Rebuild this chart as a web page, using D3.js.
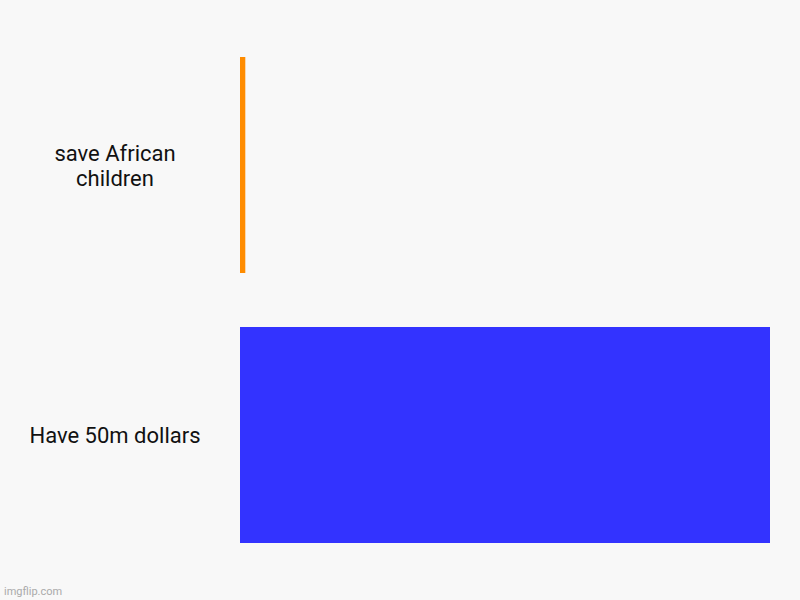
<!DOCTYPE html>
<html>
<head>
<meta charset="utf-8">
<script src="https://cdn.jsdelivr.net/npm/d3@7"></script>
<style>
  body { margin: 0; background: #f8f8f8; }
  svg { display: block; }
</style>
</head>
<body>
<div id="chart"></div>
<script>
// chart data
const categories = ["save African children", "Have 50m dollars"];
const values = [0.5, 50];
const colors = ["#ff8c00", "#3333ff"];
const labelLines = [["save African", "children"], ["Have 50m dollars"]];

const width = 800, height = 600;

const svg = d3.select("#chart").append("svg")
    .attr("width", width)
    .attr("height", height);

svg.append("rect")
    .attr("width", width)
    .attr("height", height)
    .attr("fill", "#f8f8f8");

const x = d3.scaleLinear()
    .domain([0, d3.max(values)])
    .range([240, 770]);

const y = d3.scaleBand()
    .domain(categories)
    .range([57, 543])
    .paddingInner(0.2)
    .paddingOuter(0);

svg.selectAll("rect.bar")
    .data(categories)
    .enter().append("rect")
    .attr("class", "bar")
    .attr("x", x(0))
    .attr("y", d => y(d))
    .attr("width", (d, i) => x(values[i]) - x(0))
    .attr("height", y.bandwidth())
    .attr("fill", (d, i) => colors[i]);

// category labels, wrapped like the original
const labels = svg.selectAll("text.label")
    .data(categories)
    .enter().append("text")
    .attr("class", "label")
    .attr("text-anchor", "middle")
    .attr("font-family", "Roboto, sans-serif")
    .attr("font-size", 22)
    .attr("fill", "#111");

labels.each(function(d, i) {
    const lines = labelLines[i];
    const cy = y(d) + y.bandwidth() / 2;
    const lineH = 25;
    const first = cy - (lines.length - 1) * lineH / 2 + 8;
    d3.select(this).selectAll("tspan")
        .data(lines)
        .enter().append("tspan")
        .attr("x", 115)
        .attr("y", (l, j) => first + j * lineH)
        .text(l => l);
});

svg.append("text")
    .attr("x", 4)
    .attr("y", 595)
    .attr("font-family", "Roboto, sans-serif")
    .attr("font-size", 11)
    .attr("fill", "#aaa")
    .text("imgflip.com");
</script>
</body>
</html>
